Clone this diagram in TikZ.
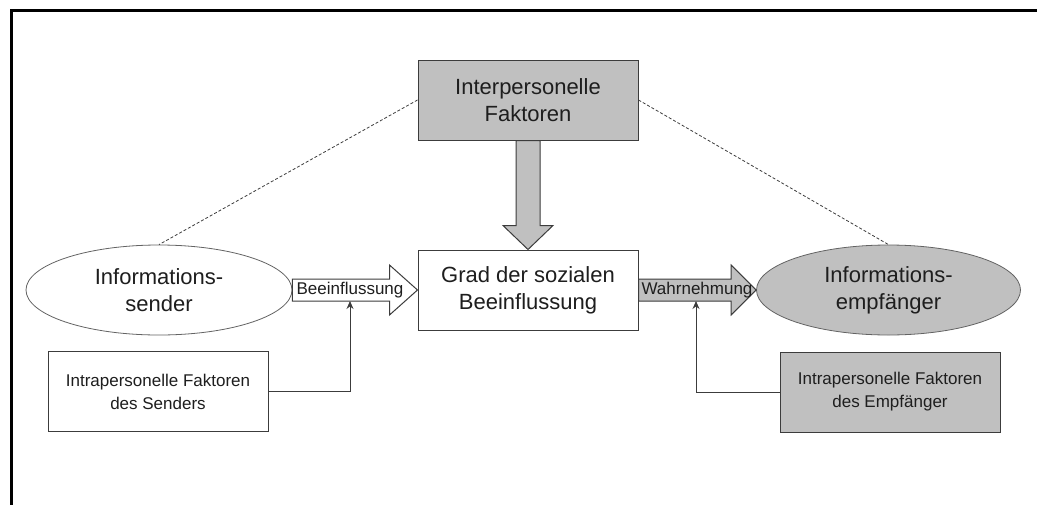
\documentclass[tikz,border=0pt]{standalone}
\usepackage{fontspec}
\setmainfont{Liberation Sans}
\usetikzlibrary{shapes.geometric,calc,arrows.meta}
\definecolor{boxgray}{RGB}{192,192,192}
\definecolor{linegray}{RGB}{60,60,60}
\definecolor{textgray}{RGB}{30,30,30}
\tikzset{
  bigtext/.style={font=\fontsize{22}{27}\selectfont, text=textgray, align=center},
  smalltext/.style={font=\fontsize{17}{23}\selectfont, text=textgray, align=center},
  bigbox/.style={draw=linegray, line width=1pt, rectangle, minimum width=220, minimum height=80, inner sep=0pt, bigtext},
  smallbox/.style={draw=linegray, line width=1pt, rectangle, minimum width=220, minimum height=80, inner sep=0pt, smalltext},
  actor/.style={draw=linegray!80, line width=0.8pt, ellipse, inner sep=0pt, bigtext},
  blockarrow/.style={draw=linegray, line width=1pt, line join=miter},
  feed/.style={draw=linegray, line width=1pt, -{Stealth[length=8pt,width=7pt]}},
  tie/.style={draw=linegray, line width=0.8pt, dash pattern=on 3pt off 2pt}
}
\begin{document}
\begin{tikzpicture}[x=1pt,y=-1pt]
\useasboundingbox (0,0) rectangle (1037,504);
\begin{scope}
  \clip (0,0) rectangle (1037,504);
  \draw[line width=3pt, black] (11,10) rectangle (1050,520);
\end{scope}

% nodes
\node[bigbox, fill=boxgray] (inter) at (528,100) {Interpersonelle\\Faktoren};
\node[bigbox, fill=white] (grad) at (528,290) {Grad der sozialen\\Beeinflussung};
\node[actor, fill=white, minimum width=266, minimum height=90] (sender) at (159,290) {Informations-\\sender};
\node[actor, fill=boxgray, minimum width=264, minimum height=90] (empf) at (888.5,290) {Informations-\\empfänger};
\node[smallbox, fill=white] (isend) at (158,391.5) {Intrapersonelle Faktoren\\des Senders};
\node[smallbox, fill=boxgray] (iempf) at (890,392) {Intrapersonelle Faktoren\\des Empfänger};

% dashed ties from the interpersonal factors to both actors
\draw[tie] (inter.west) -- (sender.north);
\draw[tie] (inter.east) -- (empf.north);

% block arrow: interpersonal factors -> degree of influence
\filldraw[blockarrow, fill=boxgray]
  ($(inter.south)+(-12,0)$) -- ($(inter.south)+(12,0)$) -- ($(inter.south)+(12,85)$)
  -- ($(inter.south)+(25,85)$) -- (grad.north) -- ($(inter.south)+(-25,85)$)
  -- ($(inter.south)+(-12,85)$) -- cycle;

% block arrow: sender -> degree of influence
\filldraw[blockarrow, fill=white]
  ($(sender.east)+(0,-11)$) -- ($(grad.west)+(-28,-11)$) -- ($(grad.west)+(-28,-25)$)
  -- (grad.west) -- ($(grad.west)+(-28,25)$) -- ($(grad.west)+(-28,11)$)
  -- ($(sender.east)+(0,11)$) -- cycle;
\node[smalltext, inner sep=0pt] (lbein) at (350,290) {Beeinflussung};

% block arrow: degree of influence -> receiver
\filldraw[blockarrow, fill=boxgray]
  ($(grad.east)+(0,-11)$) -- ($(empf.west)+(-25,-11)$) -- ($(empf.west)+(-25,-25)$)
  -- (empf.west) -- ($(empf.west)+(-25,25)$) -- ($(empf.west)+(-25,11)$)
  -- ($(grad.east)+(0,11)$) -- cycle;
\node[smalltext, inner sep=0pt] (lwahr) at (697,290) {Wahrnehmung};

% intrapersonal factors feeding into the arrows
\coordinate (bein) at (350,301);
\coordinate (wahr) at (696,301);
\draw[feed] (isend.east) -| (bein);
\draw[feed] (iempf.west) -| (wahr);
\end{tikzpicture}
\end{document}
